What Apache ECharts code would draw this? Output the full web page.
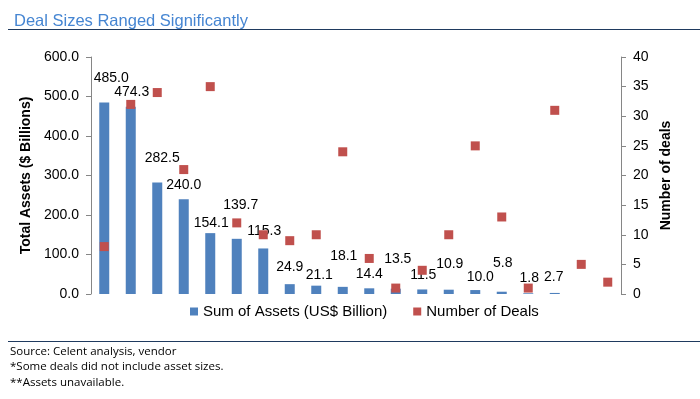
<!DOCTYPE html>
<html>
<head>
<meta charset="utf-8">
<script src="https://cdn.jsdelivr.net/npm/echarts@6/dist/echarts.min.js"></script>
<style>
  html, body { margin: 0; padding: 0; background: #fff; }
  #chart { width: 700px; height: 399px; }
</style>
</head>
<body>
<div id="chart"></div>
<script>
// deals, largest first (last two have no asset figure)
const deals = ['1', '2', '3', '4', '5', '6', '7', '8', '9', '10',
  '11', '12', '13', '14', '15', '16', '17', '18', '19**', '20**'];
const assets = [485.0, 474.3, 282.5, 240.0, 154.1, 139.7, 115.3, 24.9, 21.1, 18.1,
  14.4, 13.5, 11.5, 10.9, 10.0, 5.8, 1.8, 2.7, null, null];
const dealCounts = [8, 32, 34, 21, 35, 12, 10, 9, 10, 24,
  6, 1, 4, 10, 25, 13, 1, 31, 5, 2];
const leftTicks = { min: 0, max: 600, step: 100 };
const rightTicks = { min: 0, max: 40, step: 5 };

// label nudges so the value labels sit roughly where Excel put them
const labelNudge = [[7, -13], [1, -4], [5, -13], [0, -3], [1, 1], [4, -23], [1, -6], [0, -6], [3, 0], [1, -20],
  [0, -3], [2, -19], [1, -3], [1, -15], [5, -2], [1, -18], [1, -4], [-1, -5]];

const FONT = '"Liberation Sans", Arial, sans-serif';
const chart = echarts.init(document.getElementById('chart'));

const option = {
  animation: false,
  textStyle: { fontFamily: FONT, color: '#000' },
  title: {
    text: 'Deal Sizes Ranged Significantly',
    left: 9, top: 8,
    textStyle: { fontFamily: FONT, fontSize: 16.5, fontWeight: 'normal', color: '#4585d2' }
  },
  grid: { left: 91, right: 79, top: 57, bottom: 105 },
  legend: {
    left: 185, top: 299,
    itemWidth: 8, itemHeight: 8, itemGap: 26,
    icon: 'rect',
    textStyle: { fontFamily: FONT, fontSize: 15, color: '#000' },
    data: ['Sum of Assets (US$ Billion)', 'Number of Deals']
  },
  xAxis: {
    type: 'category',
    data: deals,
    axisLine: { show: false },
    axisTick: { show: false },
    axisLabel: { show: false }
  },
  yAxis: [
    {
      type: 'value',
      min: leftTicks.min, max: leftTicks.max, interval: leftTicks.step,
      name: 'Total Assets ($ Billions)',
      nameLocation: 'middle', nameGap: 57,
      nameTextStyle: { fontFamily: FONT, fontSize: 14, fontWeight: 'bold', color: '#000' },
      axisLine: { show: true, lineStyle: { color: '#868686' } },
      axisTick: { show: true, length: 5, lineStyle: { color: '#868686' } },
      splitLine: { show: false },
      axisLabel: { fontSize: 14, color: '#000', margin: 12, formatter: v => v.toFixed(1) }
    },
    {
      type: 'value',
      min: rightTicks.min, max: rightTicks.max, interval: rightTicks.step,
      name: 'Number of deals',
      nameLocation: 'middle', nameGap: 38,
      nameRotate: 90,
      nameTextStyle: { fontFamily: FONT, fontSize: 14, fontWeight: 'bold', color: '#000' },
      axisLine: { show: true, lineStyle: { color: '#868686' } },
      axisTick: { show: true, length: 5, lineStyle: { color: '#868686' } },
      splitLine: { show: false },
      axisLabel: { fontSize: 14, color: '#000', margin: 12 }
    }
  ],
  series: [
    {
      name: 'Sum of Assets (US$ Billion)',
      type: 'bar',
      yAxisIndex: 0,
      barWidth: 10,
      itemStyle: { color: '#4f81bd' },
      data: assets.map((v, i) => ({
        value: v,
        label: { offset: labelNudge[i] || [0, 0] }
      })),
      label: {
        show: true,
        position: 'top',
        distance: 4,
        fontFamily: FONT,
        fontSize: 14,
        color: '#000',
        formatter: p => (p.value == null ? '' : Number(p.value).toFixed(1))
      },
      z: 2
    },
    {
      name: 'Number of Deals',
      type: 'scatter',
      yAxisIndex: 1,
      symbol: 'rect',
      symbolSize: 9,
      itemStyle: { color: '#c0504d', opacity: 1 },
      data: dealCounts,
      z: 3
    }
  ],
  graphic: [
    { type: 'line', shape: { x1: 8, y1: 29.5, x2: 700, y2: 29.5 }, style: { stroke: '#1f3a5f', lineWidth: 1 } },
    { type: 'line', shape: { x1: 8, y1: 341.5, x2: 700, y2: 341.5 }, style: { stroke: '#1f3a5f', lineWidth: 1 } },
    { type: 'text', left: 10, top: 346, style: { text: 'Source: Celent analysis, vendor', font: '11.5px "Open Sans", sans-serif', fill: '#000' } },
    { type: 'text', left: 10, top: 361, style: { text: '*Some deals did not include asset sizes.', font: '11.5px "Open Sans", sans-serif', fill: '#000' } },
    { type: 'text', left: 10, top: 377, style: { text: '**Assets unavailable.', font: '11.5px "Open Sans", sans-serif', fill: '#000' } }
  ]
};

chart.setOption(option);
</script>
</body>
</html>
